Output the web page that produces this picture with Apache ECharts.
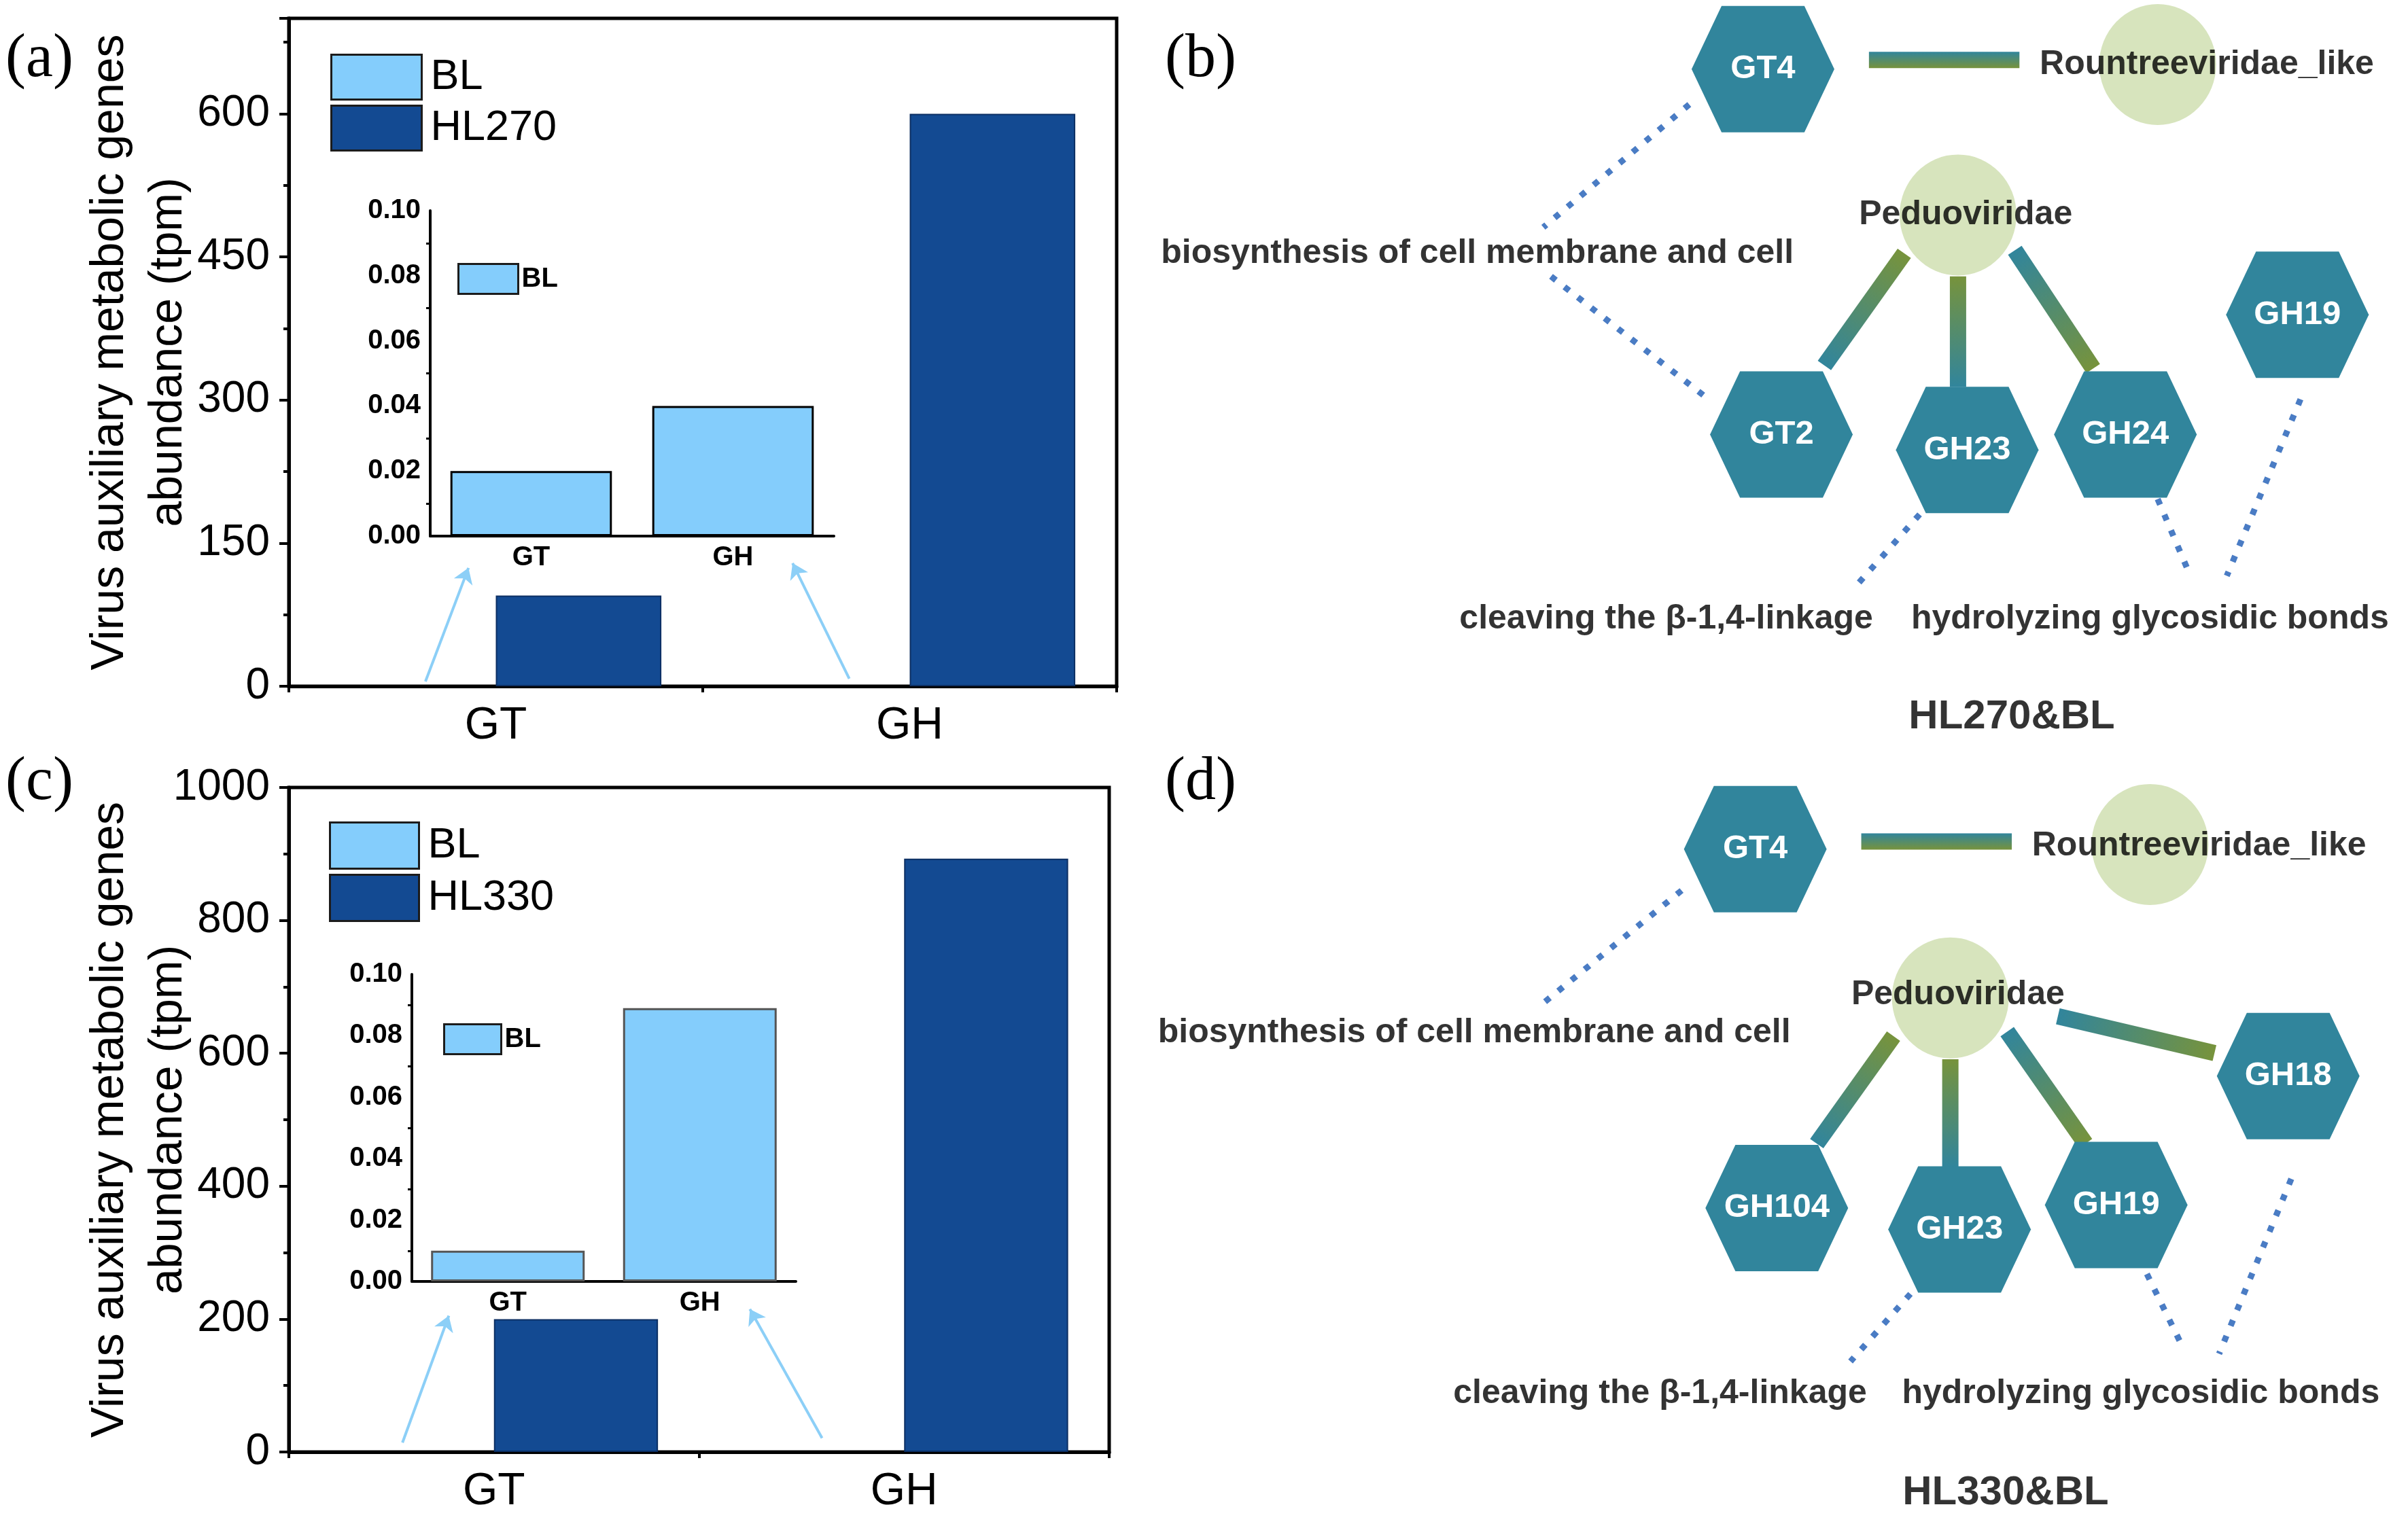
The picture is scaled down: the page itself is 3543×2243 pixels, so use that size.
<!DOCTYPE html>
<html><head><meta charset="utf-8">
<script src="https://cdn.jsdelivr.net/npm/echarts@6/dist/echarts.min.js"></script>
<style>html,body{margin:0;padding:0;background:#fff}#c{width:3543px;height:2243px}</style>
</head><body><div id="c"></div>
<script>
// ---------------- data ----------------
const categories = ['GT', 'GH'];
const blA = [0.02, 0.04];        // BL abundance (panel a)
const hl270 = [95, 600];         // HL270 abundance
const blC = [0.01, 0.089];       // BL abundance (panel c)
const hl330 = [200, 893];        // HL330 abundance
const yMainA = [0, 700, 150];    // min, max, interval
const yMainC = [0, 1000, 200];
const yInset = [0, 0.10, 0.02];
// annotation arrows (x in category-band units, y in tpm)
const arrowsA = [[[0.33, 5], [0.434, 124]], [[1.354, 8], [1.217, 129]]];
const arrowsC = [[[0.277, 14], [0.39, 205]], [[1.30, 21], [1.124, 215]]];

// network (b): layout units
const hexB = [['GT4', 1148, 45], ['GT2', 1160, 283], ['GH23', 1281, 293], ['GH24', 1384, 283], ['GH19', 1496, 205]];
const circB = [['Rountreeviridae_like', 1405, 42], ['Peduoviridae', 1275, 140]];
const textB = [['Rountreeviridae_like', 1437, 42], ['Peduoviridae', 1280, 140],
  ['biosynthesis of cell membrane and cell', 962, 165], ['cleaving the β-1,4-linkage', 1085, 403],
  ['hydrolyzing glycosidic bonds', 1400, 403]];
const titleB = [['HL270&BL', 1310, 467]];
const edgesB = [[1217, 39, 1315, 39, 1], [1188, 238, 1240, 165, 0], [1275, 252, 1275, 180, 0], [1312, 163, 1363, 240, 0]];
const dotsB = [[[1100, 68], [1005, 148]], [[1010, 180], [1110, 258]], [[1250, 335], [1210, 380]],
  [[1405, 325], [1425, 372]], [[1498, 260], [1450, 375]]];

// network (d)
const hexD = [['GT4', 1143, 553], ['GH104', 1157, 787], ['GH23', 1276, 801], ['GH19', 1378, 785], ['GH18', 1490, 701]];
const circD = [['Rountreeviridae_like', 1400, 550], ['Peduoviridae', 1270, 650]];
const textD = [['Rountreeviridae_like', 1432, 551], ['Peduoviridae', 1275, 648],
  ['biosynthesis of cell membrane and cell', 960, 673], ['cleaving the β-1,4-linkage', 1081, 908],
  ['hydrolyzing glycosidic bonds', 1394, 908]];
const titleD = [['HL330&BL', 1306, 973]];
const edgesD = [[1212, 548, 1310, 548, 1], [1183, 745, 1233, 675, 0], [1270, 760, 1270, 690, 0],
  [1307, 672, 1358, 745, 0], [1340, 662, 1442, 686, 0]];
const dotsD = [[[1095, 580], [1003, 655]], [[1244, 843], [1205, 887]], [[1398, 830], [1420, 875]], [[1492, 768], [1445, 882]]];

// ---------------- style ----------------
const FN = '"Liberation Sans Narrow","Liberation Sans",Arial,sans-serif';
const FS = '"Liberation Sans",Arial,sans-serif';
const LIGHT = '#84CDFC', DARK = '#134A92', TEAL = '#31859C', OLIVE = '#77933C', CIRC = '#D7E4BD', DOT = '#4A7CC4';
const HEX = 'path://M21,0L79,0L100,50L79,100L21,100L0,50Z';
const ELL = 'path://M50,0A50,50 0 1,1 50,100A50,50 0 1,1 50,0Z';

function mainY(idx, r) {
  return { gridIndex: idx, type: 'value', min: r[0], max: r[1], interval: r[2],
    axisLine: { show: true, lineStyle: { color: '#000', width: 5 } },
    axisTick: { show: true, inside: false, length: 14, lineStyle: { color: '#000', width: 4 } },
    minorTick: { show: true, splitNumber: 2, length: 8, lineStyle: { color: '#000', width: 4 } },
    splitLine: { show: false },
    axisLabel: { showMaxLabel: r[1] % r[2] === 0, fontFamily: FN, fontSize: 64, color: '#000', margin: 28,
      formatter: v => String(v) },
    name: 'Virus auxiliary metabolic genes\nabundance (tpm)', nameLocation: 'middle', nameGap: 134,
    nameMoveOverlap: false,
    nameTextStyle: { fontFamily: FS, fontSize: 68, lineHeight: 86, color: '#000' } };
}
function mainX(idx) {
  return { gridIndex: idx, type: 'category', data: categories, position: 'bottom',
    axisLine: { lineStyle: { color: '#000', width: 5 } },
    axisTick: { alignWithLabel: true, length: 18, lineStyle: { color: '#000', width: 4 } },
    axisLabel: { fontFamily: FN, fontSize: 66, color: '#000', margin: 26 } };
}
function overlayX(idx) {
  return { gridIndex: idx, type: 'value', min: 0, max: 2, interval: 1, position: 'bottom',
    axisLine: { show: false }, axisLabel: { show: false }, splitLine: { show: false },
    axisTick: { show: true, length: 9, lineStyle: { color: '#000', width: 4 } } };
}
function insetX(idx) {
  return { gridIndex: idx, type: 'category', data: categories,
    axisLine: { lineStyle: { color: '#000', width: 4 } },
    axisTick: { alignWithLabel: true, length: 9, lineStyle: { color: '#000', width: 3 } },
    axisLabel: { fontFamily: FS, fontWeight: 'bold', fontSize: 40, color: '#000', margin: 12 } };
}
function insetY(idx) {
  return { gridIndex: idx, type: 'value', min: yInset[0], max: yInset[1], interval: yInset[2],
    axisLine: { show: true, lineStyle: { color: '#000', width: 4 } },
    axisTick: { length: 10, lineStyle: { color: '#000', width: 3 } },
    minorTick: { show: true, splitNumber: 2, length: 6, lineStyle: { color: '#000', width: 3 } },
    splitLine: { show: false },
    axisLabel: { fontFamily: FS, fontWeight: 'bold', fontSize: 40, color: '#000', margin: 14,
      formatter: v => v.toFixed(2) } };
}
function netX(idx) { return { gridIndex: idx, type: 'value', min: 740, max: 1568, show: false }; }
function netY(idx, a, b) { return { gridIndex: idx, type: 'value', min: a, max: b, inverse: true, show: false }; }

function edgeRender(params, api) {
  const p1 = api.coord([api.value(0), api.value(1)]);
  const p2 = api.coord([api.value(2), api.value(3)]);
  const mode = api.value(4);
  const dx = p2[0] - p1[0], dy = p2[1] - p1[1];
  const len = Math.hypot(dx, dy) || 1;
  const hw = 12;
  const nx = -dy / len * hw, ny = dx / len * hw;
  const pts = [[p1[0] + nx, p1[1] + ny], [p2[0] + nx, p2[1] + ny], [p2[0] - nx, p2[1] - ny], [p1[0] - nx, p1[1] - ny]];
  const stops = [{ offset: 0, color: TEAL }, { offset: 1, color: OLIVE }];
  const g = mode === 0
    ? new echarts.graphic.LinearGradient(p1[0], p1[1], p2[0], p2[1], stops, true)
    : new echarts.graphic.LinearGradient(p1[0] - nx, p1[1] - ny, p1[0] + nx, p1[1] + ny, stops, true);
  return { type: 'polygon', shape: { points: pts }, style: { fill: g } };
}

function netSeries(xi, yi, hex, circ, text, title, edges, dots) {
  return [
    { type: 'custom', xAxisIndex: xi, yAxisIndex: yi, data: edges, renderItem: edgeRender,
      encode: { x: [0, 2], y: [1, 3] }, silent: true, z: 1 },
    { type: 'lines', coordinateSystem: 'cartesian2d', xAxisIndex: xi, yAxisIndex: yi,
      data: dots.map(d => ({ coords: d })), symbol: 'none', silent: true, z: 1,
      lineStyle: { color: DOT, width: 9, type: [9, 16], cap: 'butt', opacity: 1 } },
    { type: 'scatter', xAxisIndex: xi, yAxisIndex: yi, data: circ.map(c => [c[1], c[2], c[0]]),
      symbol: ELL, symbolKeepAspect: false, symbolSize: [172, 178], itemStyle: { color: CIRC, opacity: 1 },
      silent: true, z: 2 },
    { type: 'scatter', xAxisIndex: xi, yAxisIndex: yi, data: hex.map(c => [c[1], c[2], c[0]]),
      symbol: HEX, symbolKeepAspect: false, symbolSize: [210, 186], itemStyle: { color: TEAL, opacity: 1 },
      label: { show: true, position: 'inside', formatter: p => p.value[2], color: '#fff',
        fontFamily: FS, fontWeight: 'bold', fontSize: 49 }, silent: true, z: 3 },
    { type: 'scatter', xAxisIndex: xi, yAxisIndex: yi, data: text.map(c => [c[1], c[2], c[0]]),
      symbolSize: 0, label: { show: true, position: 'inside', formatter: p => p.value[2], color: '#000',
        fontFamily: FS, fontWeight: 'bold', fontSize: 50 }, silent: true, z: 4 },
    { type: 'scatter', xAxisIndex: xi, yAxisIndex: yi, data: title.map(c => [c[1], c[2], c[0]]),
      symbolSize: 0, label: { show: true, position: 'inside', formatter: p => p.value[2], color: '#000',
        fontFamily: FS, fontWeight: 'bold', fontSize: 60 }, silent: true, z: 4 }
  ];
}

function arrowSeries(xi, yi, arr) {
  return { type: 'lines', coordinateSystem: 'cartesian2d', xAxisIndex: xi, yAxisIndex: yi,
    data: arr.map(a => ({ coords: a })), symbol: ['none', 'arrow'], symbolSize: 22, silent: true, z: 5,
    lineStyle: { color: '#8CCFF7', width: 4, opacity: 1 } };
}

const legendCommon = { orient: 'vertical', icon: 'rect', selectedMode: false,
  itemStyle: { borderColor: '#1c1c1c', borderWidth: 3 } };

const option = {
  backgroundColor: '#fff',
  animation: false,
  grid: [
    { left: 425, top: 27, width: 1218, height: 983, show: true, borderColor: '#000', borderWidth: 5, backgroundColor: 'transparent' },
    { left: 633, top: 310, width: 594, height: 479 },
    { left: 425, top: 1159, width: 1207, height: 978, show: true, borderColor: '#000', borderWidth: 5, backgroundColor: 'transparent' },
    { left: 606, top: 1434, width: 565, height: 452 },
    { left: 1672, top: 0, width: 1871, height: 1121 },
    { left: 1672, top: 1121, width: 1871, height: 1122 }
  ],
  xAxis: [mainX(0), overlayX(0), insetX(1), mainX(2), overlayX(2), insetX(3), netX(4), netX(5)],
  yAxis: [mainY(0, yMainA), insetY(1), mainY(2, yMainC), insetY(3), netY(4, 0, 496), netY(5, 496, 993)],
  legend: [
    Object.assign({}, legendCommon, { left: 481, top: 74, itemWidth: 133, itemHeight: 66, itemGap: 6, data: ['BL', 'HL270'],
      textStyle: { fontFamily: FN, fontSize: 63, color: '#000', padding: [0, 0, 0, 8] } }),
    Object.assign({}, legendCommon, { left: 668, top: 382, itemWidth: 88, itemHeight: 44, data: ['BL'],
      textStyle: { fontFamily: FS, fontWeight: 'bold', fontSize: 40, color: '#000' } }),
    Object.assign({}, legendCommon, { left: 479, top: 1204, itemWidth: 131, itemHeight: 68, itemGap: 6, data: ['BL', 'HL330'],
      textStyle: { fontFamily: FN, fontSize: 63, color: '#000', padding: [0, 0, 0, 8] } }),
    Object.assign({}, legendCommon, { left: 647, top: 1501, itemWidth: 84, itemHeight: 44, data: ['BL'],
      textStyle: { fontFamily: FS, fontWeight: 'bold', fontSize: 40, color: '#000' } })
  ],
  graphic: [
    { type: 'text', x: 8, y: 88, style: { text: '(a)', font: '90px "Liberation Serif"', fill: '#000', textVerticalAlign: 'middle' } },
    { type: 'text', x: 1714, y: 88, style: { text: '(b)', font: '90px "Liberation Serif"', fill: '#000', textVerticalAlign: 'middle' } },
    { type: 'text', x: 8, y: 1152, style: { text: '(c)', font: '90px "Liberation Serif"', fill: '#000', textVerticalAlign: 'middle' } },
    { type: 'text', x: 1714, y: 1152, style: { text: '(d)', font: '90px "Liberation Serif"', fill: '#000', textVerticalAlign: 'middle' } }
  ],
  series: [
    { name: 'BL', type: 'bar', xAxisIndex: 0, yAxisIndex: 0, data: blA, barWidth: '40%', barGap: '0%',
      itemStyle: { color: LIGHT, borderColor: '#000', borderWidth: 2 } },
    { name: 'HL270', type: 'bar', xAxisIndex: 0, yAxisIndex: 0, data: hl270, barWidth: '40%', barGap: '0%',
      itemStyle: { color: DARK, borderColor: '#0c2f63', borderWidth: 2 } },
    { name: 'BL', type: 'bar', xAxisIndex: 2, yAxisIndex: 1, data: blA, barWidth: '80%',
      itemStyle: { color: LIGHT, borderColor: '#000', borderWidth: 3 } },
    arrowSeries(1, 0, arrowsA),
    { name: 'BL', type: 'bar', xAxisIndex: 3, yAxisIndex: 2, data: blC, barWidth: '40%', barGap: '0%',
      itemStyle: { color: LIGHT, borderColor: '#000', borderWidth: 2 } },
    { name: 'HL330', type: 'bar', xAxisIndex: 3, yAxisIndex: 2, data: hl330, barWidth: '40%', barGap: '0%',
      itemStyle: { color: DARK, borderColor: '#0c2f63', borderWidth: 2 } },
    { name: 'BL', type: 'bar', xAxisIndex: 5, yAxisIndex: 3, data: blC, barWidth: '80%',
      itemStyle: { color: LIGHT, borderColor: '#555', borderWidth: 3 } },
    arrowSeries(4, 2, arrowsC),
    ...netSeries(6, 4, hexB, circB, textB, titleB, edgesB, dotsB),
    ...netSeries(7, 5, hexD, circD, textD, titleD, edgesD, dotsD)
  ]
};
const chart = echarts.init(document.getElementById('c'), null, { renderer: 'canvas' });
chart.setOption(option);
</script></body></html>
